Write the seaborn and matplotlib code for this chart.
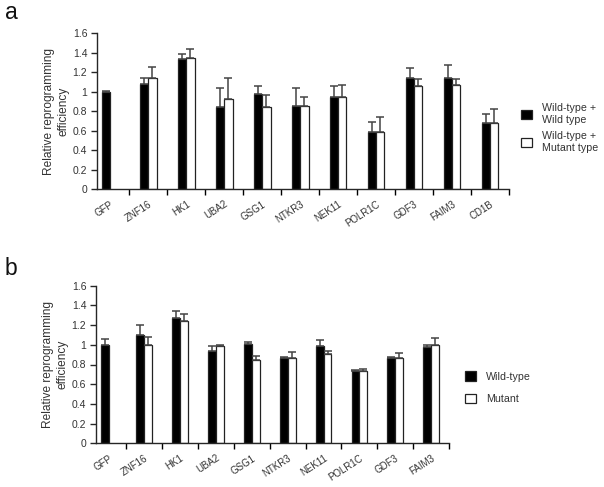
import numpy as np
import pandas as pd
import matplotlib
matplotlib.use("Agg")
import matplotlib.pyplot as plt
import seaborn as sns
from matplotlib.container import BarContainer
from matplotlib.ticker import FuncFormatter

# ---------------- data ----------------
genes_a = ["GFP", "ZNF16", "HK1", "UBA2", "GSG1", "NTKR3", "NEK11",
           "POLR1C", "GDF3", "FAIM3", "CD1B"]
wt_a = [1.00, 1.08, 1.33, 0.84, 0.98, 0.85, 0.94, 0.59, 1.14, 1.14, 0.68]
wt_err_a = [0.005, 0.06, 0.05, 0.20, 0.08, 0.19, 0.12, 0.10, 0.10, 0.135, 0.09]
mut_a = [np.nan, 1.14, 1.34, 0.92, 0.84, 0.85, 0.94, 0.59, 1.06, 1.065, 0.68]
mut_err_a = [np.nan, 0.11, 0.10, 0.22, 0.13, 0.09, 0.13, 0.15, 0.07, 0.06, 0.14]
groups_a = ["Wild-type +\nWild type", "Wild-type +\nMutant type"]

genes_b = ["GFP", "ZNF16", "HK1", "UBA2", "GSG1", "NTKR3", "NEK11",
           "POLR1C", "GDF3", "FAIM3"]
wt_b = [1.00, 1.10, 1.27, 0.935, 1.005, 0.87, 0.99, 0.735, 0.87, 0.975]
wt_err_b = [0.06, 0.10, 0.075, 0.05, 0.02, 0.005, 0.06, 0.01, 0.005, 0.02]
mut_b = [np.nan, 1.00, 1.24, 0.99, 0.85, 0.87, 0.91, 0.73, 0.87, 1.00]
mut_err_b = [np.nan, 0.075, 0.07, 0.01, 0.035, 0.055, 0.03, 0.02, 0.05, 0.065]
groups_b = ["Wild-type", "Mutant"]

y_ticks = [0, 0.2, 0.4, 0.6, 0.8, 1.0, 1.2, 1.4, 1.6]
y_label = "Relative reprogramming\nefficiency"

# ---------------- style ----------------
sns.set_style("ticks")
plt.rcParams["font.family"] = ["Liberation Sans", "DejaVu Sans"]
plt.rcParams["axes.linewidth"] = 1.0

W, H = 604, 487
fig = plt.figure(figsize=(W / 100, H / 100), dpi=100)

TXT = "#333333"


def draw_panel(ax, genes, wt, wt_err, mut, mut_err, groups, leg_anchor, leg_spacing):
    n = len(genes)
    df = pd.DataFrame({
        "gene": genes * 2,
        "group": [groups[0]] * n + [groups[1]] * n,
        "value": list(wt) + list(mut),
    }).dropna()
    errs = [wt_err, mut_err]
    sns.barplot(data=df, x="gene", y="value", hue="group", order=genes,
                hue_order=groups,
                palette={groups[0]: "black", groups[1]: "white"},
                saturation=1, width=0.44, gap=0, errorbar=None,
                edgecolor="#222222", linewidth=0.9, ax=ax)
    bar_conts = [c for c in ax.containers if isinstance(c, BarContainer)]
    # one-sided (upper) error bars on each bar
    for gi, cont in enumerate(bar_conts):
        xs, hs, es = [], [], []
        for p in cont.patches:
            cx = p.get_x() + p.get_width() / 2
            k = int(round(cx))
            e = errs[gi][k]
            if np.isnan(p.get_height()) or np.isnan(e):
                continue
            xs.append(cx)
            hs.append(p.get_height())
            es.append(e)
        ax.errorbar(xs, hs, yerr=[np.zeros(len(es)), es], fmt="none",
                    ecolor="#444444", elinewidth=1.1, capsize=2.6,
                    capthick=1.1, zorder=3)

    ax.set_ylim(0, 1.6)
    ax.set_xlim(-0.35, n - 0.5)
    ax.set_yticks(y_ticks)
    ax.yaxis.set_major_formatter(FuncFormatter(lambda v, _: f"{v:g}"))
    ax.set_xticks(range(n))
    ax.set_xticklabels(genes)
    ax.set_xticks(np.arange(0.5, n, 1.0), minor=True)
    ax.tick_params(axis="x", which="major", length=0, pad=7,
                   labelsize=7, labelcolor=TXT)
    ax.tick_params(axis="x", which="minor", length=4, width=1.0,
                   direction="out", color="black")
    ax.tick_params(axis="y", length=4, width=1.0, direction="out",
                   pad=3, labelsize=7.5, labelcolor=TXT)
    for lbl in ax.get_xticklabels():
        lbl.set_rotation(33)
        lbl.set_ha("right")
        lbl.set_va("top")
        lbl.set_rotation_mode("anchor")
    ax.set_xlabel("")
    ax.set_ylabel(y_label, fontsize=8.6, color=TXT, labelpad=2,
                  linespacing=1.3)
    sns.despine(ax=ax)

    handles, labels = ax.get_legend_handles_labels()
    if ax.get_legend() is not None:
        ax.get_legend().remove()
    for h in handles:
        h.set_edgecolor("#222222")
        h.set_linewidth(0.9)
    leg = fig.legend(handles, labels, loc="upper left",
                     bbox_to_anchor=leg_anchor, frameon=False,
                     borderpad=0, handlelength=1.0, handleheight=1.0,
                     handletextpad=0.9, labelspacing=leg_spacing,
                     fontsize=7.7)
    for t in leg.get_texts():
        t.set_color(TXT)


# panel a
ax_a = fig.add_axes([97 / W, 1 - 189.3 / H, 412 / W, 156.3 / H])
draw_panel(ax_a, genes_a, wt_a, wt_err_a, mut_a, mut_err_a, groups_a,
           (516 / W, 1 - 98 / H), 0.6)

# panel b
ax_b = fig.add_axes([96 / W, 1 - 443.3 / H, 353 / W, 157.6 / H])
draw_panel(ax_b, genes_b, wt_b, wt_err_b, mut_b, mut_err_b, groups_b,
           (460 / W, 1 - 366 / H), 1.1)

fig.text(5 / W, 1 - 19 / H, "a", fontsize=16.5, va="baseline", color="#111111")
fig.text(5 / W, 1 - 275 / H, "b", fontsize=16.5, va="baseline", color="#111111")

fig.savefig("out.png", dpi=100)
